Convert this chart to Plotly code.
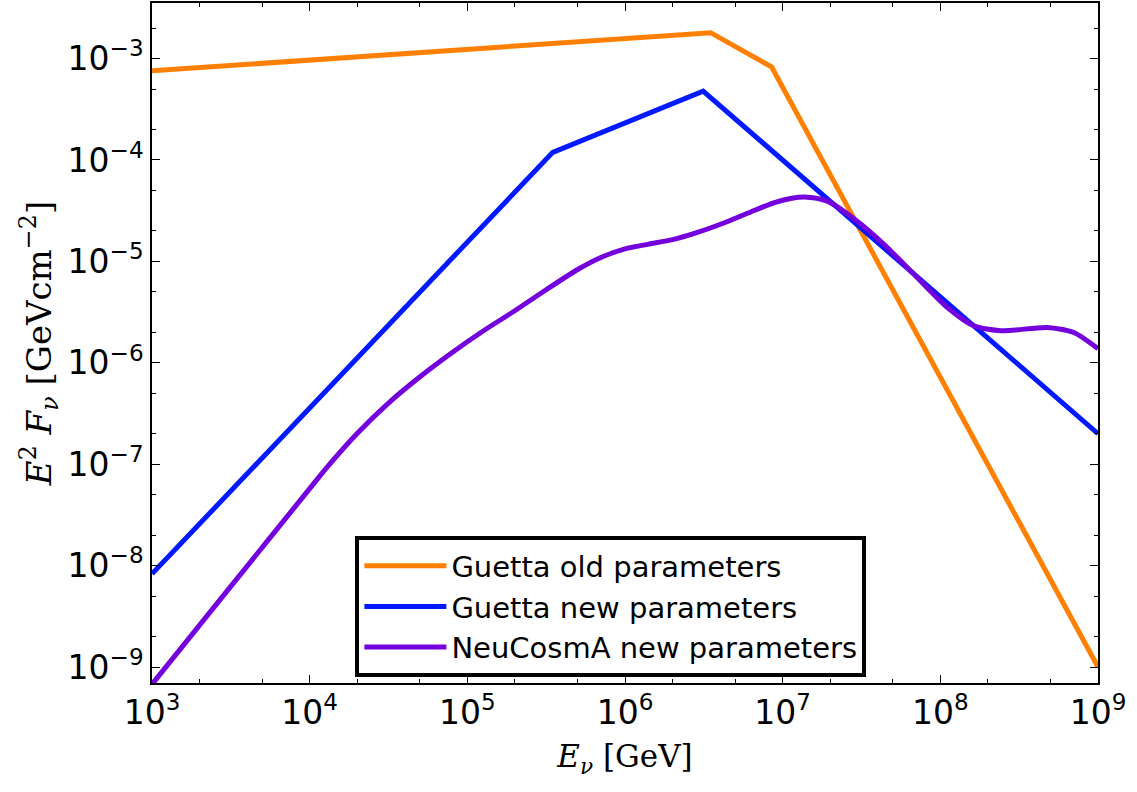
import plotly.graph_objects as go

# Guetta old parameters (broken power law)
E_old = [1.0e3, 3.49e6, 8.5e6, 1.0e9]
F_old = [7.57e-4, 1.80e-3, 8.28e-4, 1.0e-9]

# Guetta new parameters
E_new = [1.0e3, 3.48e5, 3.13e6, 1.0e9]
F_new = [8.3e-9, 1.19e-4, 4.78e-4, 2.0e-7]

# NeuCosmA new parameters
E_neu = [1.0e3, 3.16e3, 1.0e4, 1.26e4, 2.0e4, 3.16e4, 5.01e4, 7.94e4, 1.26e5, 2.0e5,
         3.16e5, 5.01e5, 7.08e5, 1.0e6, 1.41e6, 2.0e6, 2.82e6, 4.23e6, 6.31e6, 8.77e6,
         1.12e7, 1.43e7, 1.92e7, 2.97e7, 4.37e7, 6.78e7, 1.11e8, 1.63e8, 2.42e8,
         4.78e8, 7.01e8, 1.0e9]
F_neu = [6.76e-10, 6.24e-9, 5.75e-8, 8.97e-8, 2.01e-7, 4.01e-7, 7.29e-7, 1.25e-6, 2.06e-6, 3.26e-6,
         5.25e-6, 8.32e-6, 1.10e-5, 1.33e-5, 1.48e-5, 1.64e-5, 1.91e-5, 2.39e-5, 3.09e-5, 3.78e-5,
         4.17e-5, 4.30e-5, 3.93e-5, 2.49e-5, 1.48e-5, 7.52e-6, 3.51e-6, 2.32e-6, 2.07e-6,
         2.23e-6, 1.99e-6, 1.38e-6]

x_tickvals = [1e3, 1e4, 1e5, 1e6, 1e7, 1e8, 1e9]
x_ticktext = ["10<sup>3</sup>", "10<sup>4</sup>", "10<sup>5</sup>", "10<sup>6</sup>",
              "10<sup>7</sup>", "10<sup>8</sup>", "10<sup>9</sup>"]
y_tickvals = [1e-9, 1e-8, 1e-7, 1e-6, 1e-5, 1e-4, 1e-3]
y_ticktext = ["10<sup>−9</sup>", "10<sup>−8</sup>", "10<sup>−7</sup>", "10<sup>−6</sup>",
              "10<sup>−5</sup>", "10<sup>−4</sup>", "10<sup>−3</sup>"]

fig = go.Figure()
fig.add_trace(go.Scatter(x=E_old, y=F_old, mode="lines", name="Guetta old parameters",
                         line=dict(color="#ff7f00", width=5)))
fig.add_trace(go.Scatter(x=E_new, y=F_new, mode="lines", name="Guetta new parameters",
                         line=dict(color="#0019ff", width=5)))
fig.add_trace(go.Scatter(x=E_neu, y=F_neu, mode="lines", name="NeuCosmA new parameters",
                         line=dict(color="#7300dd", width=5, shape="spline", smoothing=0.7)))

axis_common = dict(
    type="log", showgrid=False, zeroline=False,
    showline=True, linecolor="black", linewidth=1.5, mirror="allticks",
    ticks="inside", ticklen=8, tickwidth=1, tickcolor="black",
    tickfont=dict(family="DejaVu Sans", size=33, color="black"),
    minor=dict(ticks="inside", ticklen=4, tickwidth=1, tickcolor="black", showgrid=False),
)

fig.update_xaxes(**axis_common, range=[3, 9], tickvals=x_tickvals, ticktext=x_ticktext,
                 title=dict(text="<i>E</i><sub><i>ν</i></sub> [GeV]",
                            font=dict(family="DejaVu Serif", size=31, color="black"),
                            standoff=14))
fig.update_yaxes(**axis_common, range=[-9.157, -2.452], tickvals=y_tickvals, ticktext=y_ticktext,
                 title=dict(text="<i>E</i><sup>2</sup> <i>F</i><sub><i>ν</i></sub> [GeVcm<sup>−2</sup>]",
                            font=dict(family="DejaVu Serif", size=34, color="black"),
                            standoff=6))

fig.update_layout(
    width=1137, height=792,
    margin=dict(l=152, r=39, t=1, b=109),
    plot_bgcolor="white", paper_bgcolor="white",
    legend=dict(x=0.215, y=0.112, xanchor="left", yanchor="middle",
                bgcolor="white", bordercolor="black", borderwidth=4,
                font=dict(family="DejaVu Sans", size=29, color="black"),
                tracegroupgap=0, itemwidth=82),
)

fig.write_html("out.html")
